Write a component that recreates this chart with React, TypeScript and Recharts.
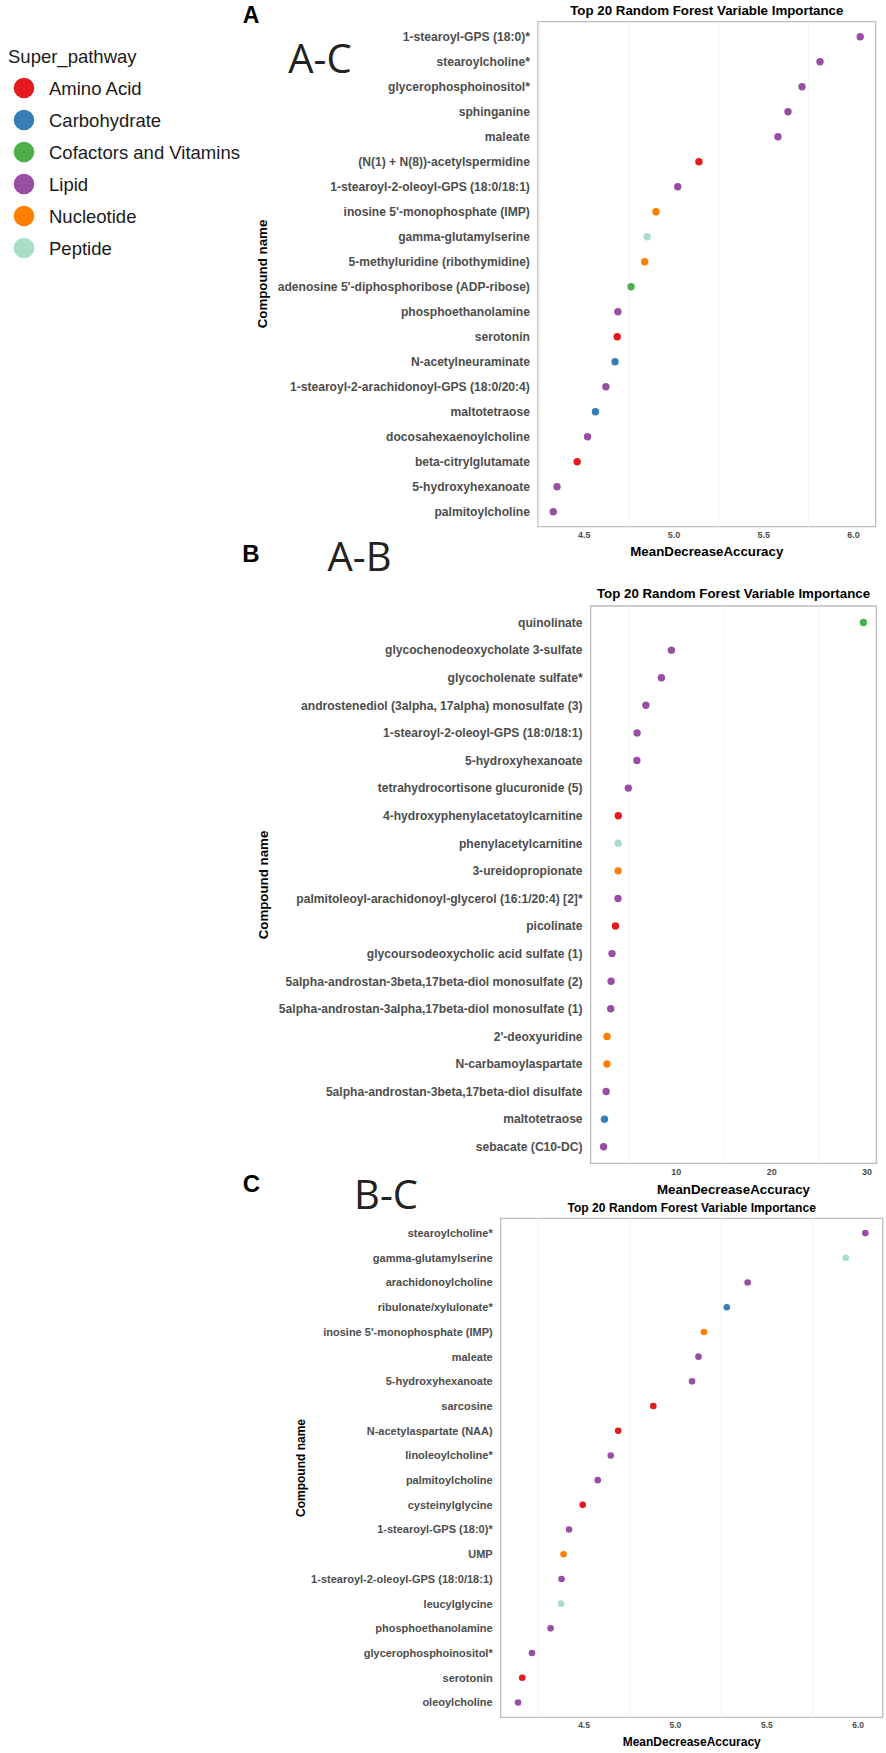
import React from "react";
import { ReferenceArea, ReferenceLine, Scatter, ScatterChart, XAxis, YAxis } from "recharts";

const FONT = "'Liberation Sans', Arial, sans-serif";

const pathways = ["Amino Acid", "Carbohydrate", "Cofactors and Vitamins", "Lipid", "Nucleotide", "Peptide"];
const pathwayColors = ["#E41A1C", "#377EB8", "#4DAF4A", "#984EA3", "#FF7F00", "#A9DEC9"];

// A-C
const acNames = [
  "1-stearoyl-GPS (18:0)*",
  "stearoylcholine*",
  "glycerophosphoinositol*",
  "sphinganine",
  "maleate",
  "(N(1) + N(8))-acetylspermidine",
  "1-stearoyl-2-oleoyl-GPS (18:0/18:1)",
  "inosine 5'-monophosphate (IMP)",
  "gamma-glutamylserine",
  "5-methyluridine (ribothymidine)",
  "adenosine 5'-diphosphoribose (ADP-ribose)",
  "phosphoethanolamine",
  "serotonin",
  "N-acetylneuraminate",
  "1-stearoyl-2-arachidonoyl-GPS (18:0/20:4)",
  "maltotetraose",
  "docosahexaenoylcholine",
  "beta-citrylglutamate",
  "5-hydroxyhexanoate",
  "palmitoylcholine",
];
const acValues = [6.037, 5.813, 5.713, 5.635, 5.579, 5.139, 5.021, 4.9, 4.851, 4.837, 4.761, 4.688, 4.684, 4.672, 4.621, 4.563, 4.519, 4.461, 4.349, 4.328];
const acPathways = [
  "Lipid", "Lipid", "Lipid", "Lipid", "Lipid", "Amino Acid", "Lipid", "Nucleotide", "Peptide", "Nucleotide",
  "Cofactors and Vitamins", "Lipid", "Amino Acid", "Carbohydrate", "Lipid", "Carbohydrate", "Lipid", "Amino Acid", "Lipid", "Lipid",
];

// A-B
const abNames = [
  "quinolinate",
  "glycochenodeoxycholate 3-sulfate",
  "glycocholenate sulfate*",
  "androstenediol (3alpha, 17alpha) monosulfate (3)",
  "1-stearoyl-2-oleoyl-GPS (18:0/18:1)",
  "5-hydroxyhexanoate",
  "tetrahydrocortisone glucuronide (5)",
  "4-hydroxyphenylacetatoylcarnitine",
  "phenylacetylcarnitine",
  "3-ureidopropionate",
  "palmitoleoyl-arachidonoyl-glycerol (16:1/20:4) [2]*",
  "picolinate",
  "glycoursodeoxycholic acid sulfate (1)",
  "5alpha-androstan-3beta,17beta-diol monosulfate (2)",
  "5alpha-androstan-3alpha,17beta-diol monosulfate (1)",
  "2'-deoxyuridine",
  "N-carbamoylaspartate",
  "5alpha-androstan-3beta,17beta-diol disulfate",
  "maltotetraose",
  "sebacate (C10-DC)",
];
const abValues = [29.61, 9.48, 8.43, 6.8, 5.88, 5.86, 4.96, 3.91, 3.9, 3.89, 3.88, 3.61, 3.25, 3.16, 3.12, 2.73, 2.72, 2.64, 2.46, 2.37];
const abPathways = [
  "Cofactors and Vitamins", "Lipid", "Lipid", "Lipid", "Lipid", "Lipid", "Lipid", "Amino Acid", "Peptide", "Nucleotide",
  "Lipid", "Amino Acid", "Lipid", "Lipid", "Lipid", "Nucleotide", "Nucleotide", "Lipid", "Carbohydrate", "Lipid",
];

// B-C
const bcNames = [
  "stearoylcholine*",
  "gamma-glutamylserine",
  "arachidonoylcholine",
  "ribulonate/xylulonate*",
  "inosine 5'-monophosphate (IMP)",
  "maleate",
  "5-hydroxyhexanoate",
  "sarcosine",
  "N-acetylaspartate (NAA)",
  "linoleoylcholine*",
  "palmitoylcholine",
  "cysteinylglycine",
  "1-stearoyl-GPS (18:0)*",
  "UMP",
  "1-stearoyl-2-oleoyl-GPS (18:0/18:1)",
  "leucylglycine",
  "phosphoethanolamine",
  "glycerophosphoinositol*",
  "serotonin",
  "oleoylcholine",
];
const bcValues = [6.039, 5.932, 5.395, 5.281, 5.156, 5.126, 5.091, 4.879, 4.687, 4.646, 4.575, 4.493, 4.418, 4.388, 4.377, 4.374, 4.317, 4.215, 4.162, 4.139];
const bcPathways = [
  "Lipid", "Peptide", "Lipid", "Carbohydrate", "Nucleotide", "Lipid", "Lipid", "Amino Acid", "Amino Acid", "Lipid",
  "Lipid", "Amino Acid", "Lipid", "Nucleotide", "Lipid", "Peptide", "Lipid", "Lipid", "Amino Acid", "Lipid",
];

const colorOf = (p: string) => pathwayColors[pathways.indexOf(p)];

type PanelProps = {
  top: number;
  height: number;
  plotTop: number;
  plotBottom: number;
  plotLeft: number;
  plotRight: number;
  xAxisHeight: number;
  names: string[];
  values: number[];
  groups: string[];
  xTicks: number[];
  minor: number[];
  labelSize: number;
  xTickSize: number;
  dotR: number;
};

function Panel(p: PanelProps) {
  const data = p.names.map((name, i) => ({ rank: i + 1, name, value: p.values[i], group: p.groups[i] }));
  const lo = Math.min(...p.values);
  const hi = Math.max(...p.values);
  const pad = (hi - lo) * 0.05;
  const xDomain: [number, number] = [lo - pad, hi + pad];
  const yDomain: [number, number] = [0.4, p.names.length + 0.6];
  return (
    <div style={{ position: "absolute", left: 0, top: p.top }}>
      <ScatterChart
        width={886}
        height={p.height}
        margin={{
          top: p.plotTop - p.top,
          right: 886 - p.plotRight,
          bottom: p.top + p.height - p.plotBottom - p.xAxisHeight,
          left: 0,
        }}
      >
        <XAxis
          type="number"
          dataKey="value"
          domain={xDomain}
          allowDataOverflow
          ticks={p.xTicks}
          tickFormatter={(v: number) => (Number.isInteger(v) && v >= 10 ? String(v) : v.toFixed(1))}
          height={p.xAxisHeight}
          axisLine={false}
          tickLine={false}
          tickSize={3}
          tickMargin={2}
          tick={{ fill: "#4d4d4d", fontSize: p.xTickSize, fontWeight: 700, fontFamily: FONT }}
        />
        <YAxis
          type="number"
          dataKey="rank"
          reversed
          domain={yDomain}
          allowDataOverflow
          ticks={data.map((d) => d.rank)}
          interval={0}
          tickFormatter={(v: number) => p.names[v - 1]}
          width={p.plotLeft}
          axisLine={false}
          tickLine={false}
          tickSize={6}
          tickMargin={2}
          tick={{ fill: "#4d4d4d", fontSize: p.labelSize, fontWeight: 700, fontFamily: FONT }}
        />
        {p.minor.map((m) => (
          <ReferenceLine key={m} x={m} stroke="#f3f3f3" strokeWidth={1} />
        ))}
        <ReferenceArea
          x1={xDomain[0]}
          x2={xDomain[1]}
          y1={yDomain[0]}
          y2={yDomain[1]}
          fill="none"
          fillOpacity={0}
          stroke="#bdbdbd"
          strokeWidth={1.3}
          strokeOpacity={1}
        />
        <Scatter
          data={data}
          isAnimationActive={false}
          shape={(s: any) => <circle cx={s.cx} cy={s.cy} r={p.dotR} fill={colorOf(s.payload.group)} />}
        />
      </ScatterChart>
    </div>
  );
}

function Txt(props: {
  x: number;
  y: number;
  size: number;
  weight?: number;
  rotate?: boolean;
  family?: string;
  color?: string;
  children: React.ReactNode;
}) {
  const { x, y, size, weight = 700, rotate = false, family = FONT, color = "#000", children } = props;
  return (
    <div
      style={{
        position: "absolute",
        left: x,
        top: y,
        transform: `translate(-50%, -50%)${rotate ? " rotate(-90deg)" : ""}`,
        fontSize: size,
        fontWeight: weight,
        fontFamily: family,
        color,
        whiteSpace: "nowrap",
        lineHeight: 1,
      }}
    >
      {children}
    </div>
  );
}

const TITLE = "Top 20 Random Forest Variable Importance";
const XTITLE = "MeanDecreaseAccuracy";
const YTITLE = "Compound name";
const CODE_FONT = "'Open Sans', 'Noto Sans', sans-serif";

export default function App() {
  return (
    <div style={{ position: "absolute", left: 0, top: 0, width: 886, height: 1753, background: "#fff", overflow: "hidden" }}>
      <svg width={240} height={265} style={{ position: "absolute", left: 0, top: 0 }}>
        <text x={8} y={63} fontSize={18.5} fontFamily={FONT} fill="#1a1a1a">
          Super_pathway
        </text>
        {pathways.map((name, i) => (
          <g key={name}>
            <circle cx={24} cy={88 + 32 * i} r={10.3} fill={pathwayColors[i]} />
            <text x={49} y={95 + 32 * i} fontSize={18.5} fontFamily={FONT} fill="#1a1a1a">
              {name}
            </text>
          </g>
        ))}
      </svg>

      <Panel
        top={0}
        height={570}
        plotTop={21.7}
        plotBottom={526.7}
        plotLeft={537.9}
        plotRight={875.6}
        xAxisHeight={30}
        names={acNames}
        values={acValues}
        groups={acPathways}
        xTicks={[4.5, 5, 5.5, 6]}
        minor={[4.25, 4.75, 5.25, 5.75]}
        labelSize={12.1}
        xTickSize={9}
        dotR={3.7}
      />
      <Panel
        top={570}
        height={630}
        plotTop={606}
        plotBottom={1163.3}
        plotLeft={590.6}
        plotRight={876.4}
        xAxisHeight={30}
        names={abNames}
        values={abValues}
        groups={abPathways}
        xTicks={[10, 20, 30]}
        minor={[5, 15, 25]}
        labelSize={12.1}
        xTickSize={9}
        dotR={3.7}
      />
      <Panel
        top={1200}
        height={553}
        plotTop={1218.3}
        plotBottom={1717.3}
        plotLeft={500.7}
        plotRight={882.7}
        xAxisHeight={20}
        names={bcNames}
        values={bcValues}
        groups={bcPathways}
        xTicks={[4.5, 5, 5.5, 6]}
        minor={[4.25, 4.75, 5.25, 5.75]}
        labelSize={11}
        xTickSize={8.5}
        dotR={3.3}
      />

      <Txt x={251} y={15} size={23}>A</Txt>
      <Txt x={320} y={57.5} size={40} weight={400} family={CODE_FONT} color="#222">A-C</Txt>
      <Txt x={706.8} y={11} size={13.3}>{TITLE}</Txt>
      <Txt x={706.8} y={551.7} size={13.3}>{XTITLE}</Txt>
      <Txt x={263} y={274.2} size={13.3} rotate>{YTITLE}</Txt>

      <Txt x={251} y={554} size={24}>B</Txt>
      <Txt x={359.5} y={555.5} size={40} weight={400} family={CODE_FONT} color="#222">A-B</Txt>
      <Txt x={733.5} y={594} size={13.3}>{TITLE}</Txt>
      <Txt x={733.5} y={1190} size={13.3}>{XTITLE}</Txt>
      <Txt x={263.5} y={884.7} size={13.3} rotate>{YTITLE}</Txt>

      <Txt x={251.5} y={1184} size={24}>C</Txt>
      <Txt x={386} y={1193.5} size={40} weight={400} family={CODE_FONT} color="#222">B-C</Txt>
      <Txt x={691.7} y={1207.7} size={12.1}>{TITLE}</Txt>
      <Txt x={691.7} y={1741.7} size={12}>{XTITLE}</Txt>
      <Txt x={301} y={1467.8} size={12} rotate>{YTITLE}</Txt>
    </div>
  );
}
